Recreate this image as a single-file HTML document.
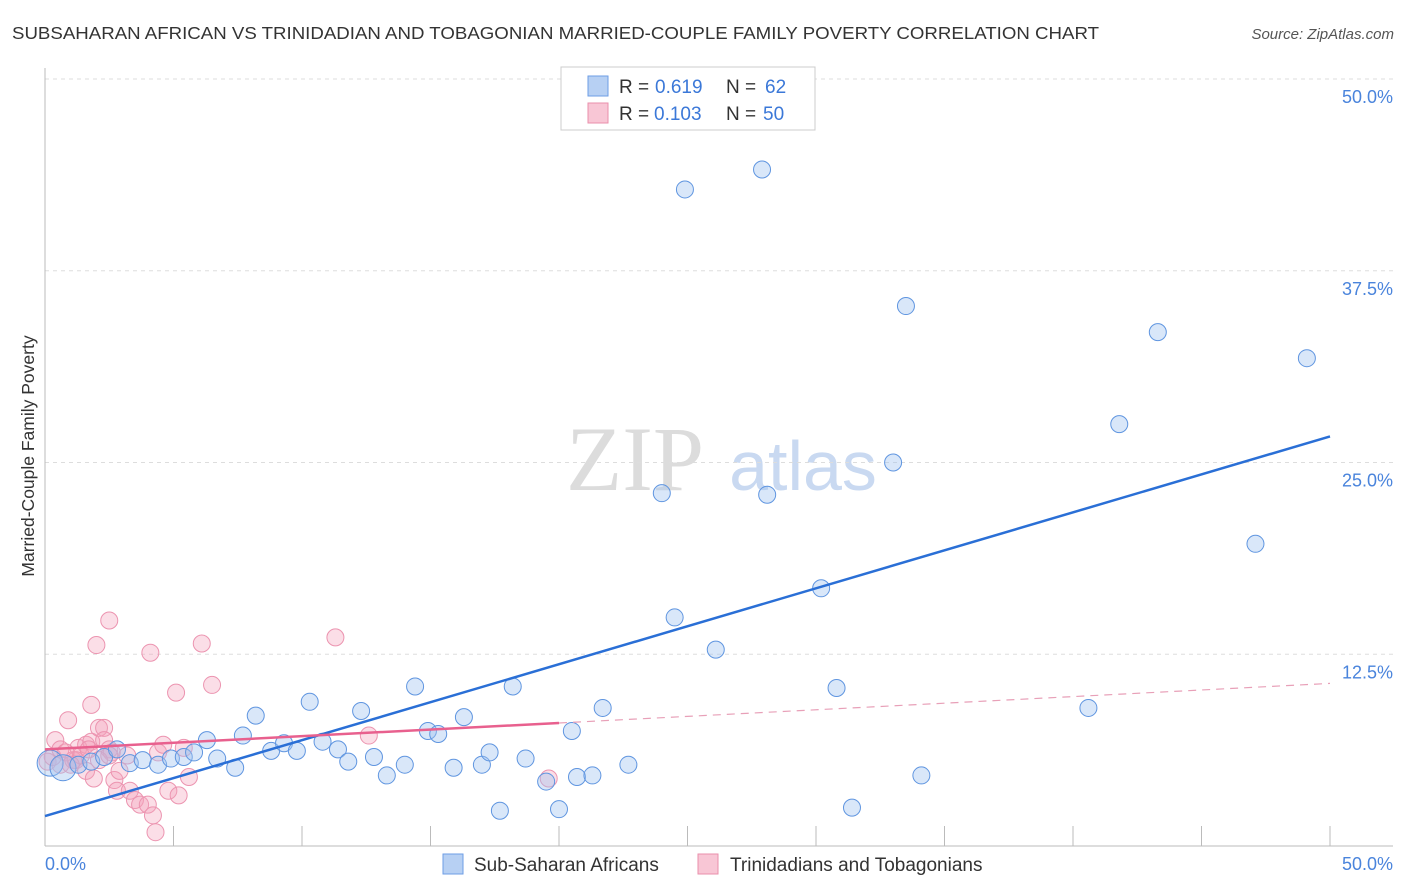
<!DOCTYPE html>
<html><head><meta charset="utf-8"><style>
body{margin:0;background:#fff;font-family:"Liberation Sans",sans-serif}
svg{display:block}
</style></head><body>
<svg id="chart" width="1406" height="892" font-family="Liberation Sans, sans-serif">
<text x="12" y="39" font-size="17.5" fill="#333" textLength="1087" lengthAdjust="spacingAndGlyphs">SUBSAHARAN AFRICAN VS TRINIDADIAN AND TOBAGONIAN MARRIED-COUPLE FAMILY POVERTY CORRELATION CHART</text>
<text x="1394" y="39" font-size="15" fill="#555" font-style="italic" text-anchor="end">Source: ZipAtlas.com</text>
<text transform="translate(34,456) rotate(-90)" font-size="17.5" fill="#333" text-anchor="middle">Married-Couple Family Poverty</text>
<g><text x="635" y="490" font-size="92" font-family="Liberation Serif, serif" fill="#dcdcdc" text-anchor="middle">ZIP</text><text x="803" y="490" font-size="70" fill="#c9d9f1" text-anchor="middle">atlas</text></g>
<g id="grid"></g><g id="axes"></g><g id="pinkpts"></g><g id="bluepts"></g><g id="lines"></g>
<g>
<rect x="561" y="67" width="254" height="63" fill="#fff" stroke="#ccc"/>
<rect x="588" y="76" width="20" height="20" fill="#b7d0f3" stroke="#6e9ee6"/>
<rect x="588" y="103" width="20" height="20" fill="#f8c6d5" stroke="#ea8fab"/>
<text x="619" y="93" font-size="19" fill="#333">R =</text>
<text x="655" y="93" font-size="19" fill="#3b78d8">0.619</text>
<text x="726" y="93" font-size="19" fill="#333">N =</text>
<text x="765" y="93" font-size="19" fill="#3b78d8">62</text>
<text x="619" y="120" font-size="19" fill="#333">R =</text>
<text x="654" y="120" font-size="19" fill="#3b78d8">0.103</text>
<text x="726" y="120" font-size="19" fill="#333">N =</text>
<text x="763" y="120" font-size="19" fill="#3b78d8">50</text>
</g>
<g>
<rect x="443" y="854" width="20" height="20" fill="#b7d0f3" stroke="#6e9ee6"/>
<text x="474" y="871" font-size="19" fill="#333">Sub-Saharan Africans</text>
<rect x="698" y="854" width="20" height="20" fill="#f8c6d5" stroke="#ea8fab"/>
<text x="730" y="871" font-size="19" fill="#333">Trinidadians and Tobagonians</text>
</g>
</svg>
<script>
const yTicks=[12.5,25,37.5,50];
const yTickLabels=["12.5%","25.0%","37.5%","50.0%"];
const xTickLabels=["0.0%","50.0%"];
const blueX=[0.2,0.7,1.3,1.8,2.3,2.8,3.3,3.8,4.4,4.9,5.4,5.8,6.3,6.7,7.4,7.7,8.2,8.8,9.3,9.8,10.3,10.8,11.4,11.8,12.3,12.8,13.3,14.0,14.4,14.9,15.3,15.9,16.3,17.0,17.3,17.7,18.2,18.7,19.5,20.0,20.5,20.7,21.3,21.7,22.7,24.0,24.5,24.9,26.1,27.9,28.1,30.2,30.8,31.4,33.0,33.5,34.1,40.6,41.8,43.3,47.1,49.1];
const blueY=[5.4,5.1,5.3,5.5,5.8,6.3,5.4,5.6,5.3,5.7,5.8,6.1,6.9,5.7,5.1,7.2,8.5,6.2,6.7,6.2,9.4,6.8,6.3,5.5,8.8,5.8,4.6,5.3,10.4,7.5,7.3,5.1,8.4,5.3,6.1,2.3,10.4,5.7,4.2,2.4,7.5,4.5,4.6,9.0,5.3,23.0,14.9,42.8,12.8,44.1,22.9,16.8,10.3,2.5,25.0,35.2,4.6,9.0,27.5,33.5,19.7,31.8];
const pinkX=[0.1,0.3,0.4,0.6,0.9,1.1,1.3,1.6,1.8,1.8,2.0,2.1,2.3,2.3,2.5,2.5,2.6,2.7,2.8,2.9,3.2,3.3,3.5,3.7,4.0,4.1,4.2,4.3,4.4,4.6,4.8,5.1,5.2,5.4,5.6,6.1,6.5,11.3,12.6,19.6,0.6,1.2,1.6,1.9,1.4,0.8,1.0,1.7,2.1,2.5];
const pinkY=[5.5,5.8,6.9,5.3,8.2,5.6,6.4,6.6,6.8,9.2,13.1,7.7,7.7,6.9,6.3,14.7,6.1,4.3,3.6,4.9,5.9,3.6,3.0,2.7,2.7,12.6,2.0,0.9,6.1,6.6,3.6,10.0,3.3,6.4,4.5,13.2,10.5,13.6,7.2,4.4,6.3,5.6,4.9,4.4,5.9,6.1,5.3,6.3,5.6,5.9];
const blueTrend=[1.95,26.7];
const pinkTrend=[6.3,10.6];
const pinkSolidEnd=20;
const NS="http://www.w3.org/2000/svg";
const X0=45,X1=1330,Y0=846,Y1=79;
const sx=v=>X0+(X1-X0)*v/50, sy=v=>Y0-(Y0-Y1)*v/50;
function mk(t,a,p){const e=document.createElementNS(NS,t);for(const k in a)e.setAttribute(k,a[k]);p.appendChild(e);return e;}
const grid=document.getElementById('grid');
yTicks.forEach((t,i)=>{
 const l=mk('line',{x1:X0,x2:1393,y1:sy(t),y2:sy(t),stroke:'#ddd','stroke-dasharray':'4,4'},grid);
 
 
 const tx=mk('text',{x:1393,y:sy(t)+24,'font-size':18,fill:'#4a84dc','text-anchor':'end'},grid);
 tx.textContent=yTickLabels[i];
 
 
});
const ax=document.getElementById('axes');
mk('line',{x1:X0,x2:X0,y1:68,y2:Y0,stroke:'#bbb'},ax);
mk('line',{x1:X0,x2:1393,y1:Y0,y2:Y0,stroke:'#bbb'},ax);
for(let i=1;i<=10;i++){const x=sx(i*5);mk('line',{x1:x,x2:x,y1:Y0-20,y2:Y0,stroke:'#bbb'},ax);}
const t0=mk('text',{x:45,y:870,'font-size':18,fill:'#4a84dc'},ax);t0.textContent=xTickLabels[0];


const t1=mk('text',{x:1393,y:870,'font-size':18,fill:'#4a84dc','text-anchor':'end'},ax);t1.textContent=xTickLabels[1];


const pg=document.getElementById('pinkpts');
pinkX.forEach((x,i)=>{const c=mk('circle',{cx:sx(x),cy:sy(pinkY[i]),r:8.5,fill:'rgba(244,160,186,0.35)',stroke:'#ec94b0','stroke-width':1},pg);
 
 });
const bg=document.getElementById('bluepts');
blueX.forEach((x,i)=>{const c=mk('circle',{cx:sx(x),cy:sy(blueY[i]),r:i<2?13:8.5,fill:'rgba(160,196,240,0.4)',stroke:'#5f95e0','stroke-width':1},bg);
 
 });
const lg=document.getElementById('lines');
const bl=mk('line',{x1:sx(0),y1:sy(blueTrend[0]),x2:sx(50),y2:sy(blueTrend[1]),stroke:'#2a6fd6','stroke-width':2.5},lg);


const pm=pinkTrend[0]+(pinkTrend[1]-pinkTrend[0])*pinkSolidEnd/50;
const pl=mk('line',{x1:sx(0),y1:sy(pinkTrend[0]),x2:sx(pinkSolidEnd),y2:sy(pm),stroke:'#e8608e','stroke-width':2.5},lg);


const pd=mk('line',{x1:sx(pinkSolidEnd),y1:sy(pm),x2:sx(50),y2:sy(pinkTrend[1]),stroke:'#e8a0b8','stroke-width':1.2,'stroke-dasharray':'8,6'},lg);


</script>
</body></html>
